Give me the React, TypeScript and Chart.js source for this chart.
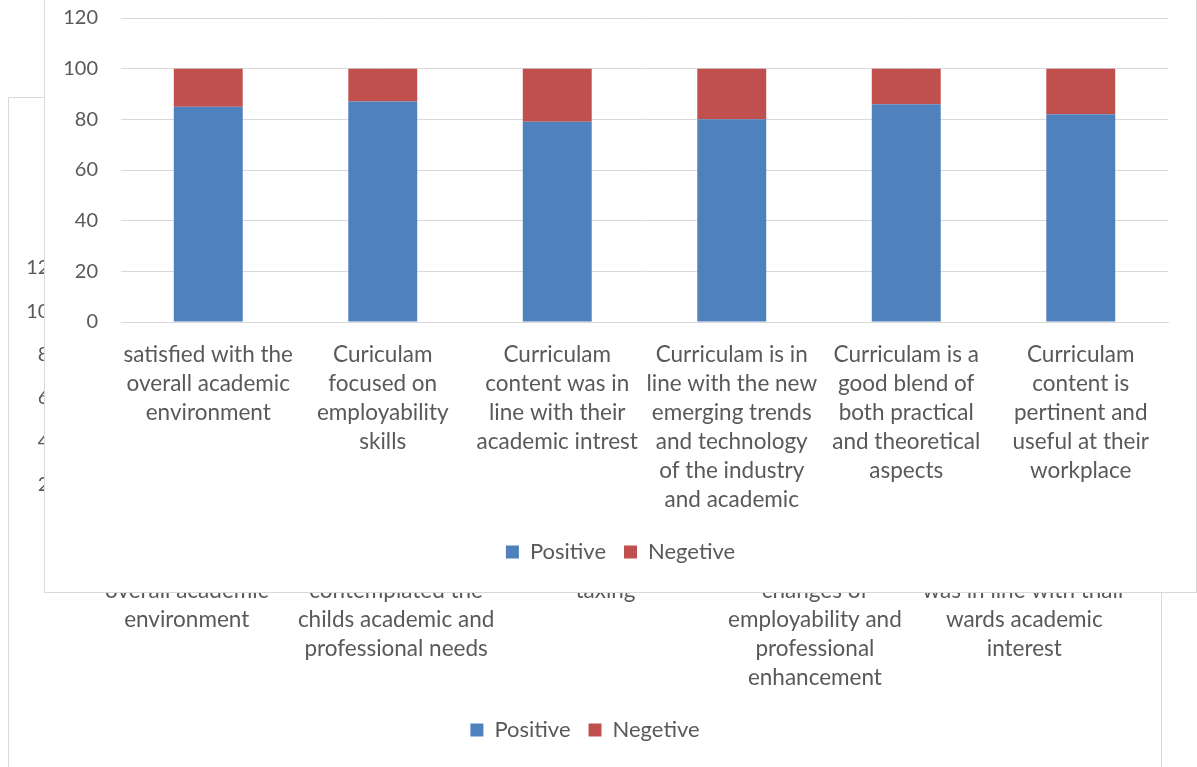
import React, { useEffect, useRef } from "react";
import { Chart, registerables } from "chart.js";

Chart.register(...registerables);

const seriesNames = ["Positive", "Negetive"];
const seriesColors = ["#4f81bd", "#c0504d"];
const yMin = 0;
const yMax = 120;
const yStep = 20;

const frontCategories = [
  ["satisfied with the", "overall academic", "environment"],
  ["Curiculam", "focused on", "employability", "skills"],
  ["Curriculam", "content was in", "line with their", "academic intrest"],
  ["Curriculam is in", "line with the new", "emerging trends", "and technology", "of the industry", "and academic"],
  ["Curriculam is a", "good blend of", "both practical", "and theoretical", "aspects"],
  ["Curriculam", "content is", "pertinent and", "useful at their", "workplace"],
];
const frontPositive = [85, 87, 79, 80, 86, 82];
const frontNegative = [15, 13, 21, 20, 14, 18];

const backCategories = [
  ["satisfied with the", "overall academic", "environment"],
  ["Curriculam", "contemplated the", "childs academic and", "professional needs"],
  ["Curriculam was not", "taxing"],
  ["Curriculam met the", "changes of", "employability and", "professional", "enhancement"],
  ["Curriculam content", "was in line with thair", "wards academic", "interest"],
];
const backPositive = [86, 83, 72, 81, 84];
const backNegative = [14, 17, 28, 19, 16];

const FONT = "Lato, 'Open Sans', sans-serif";
const TEXT = "#595959";
const GRID = "#d9d9d9";
const LABEL_SIZE = 22.5;
const LEGEND_SIZE = 22;
const TICK_SIZE = 20;

type Geo = {
  top: number;
  bottom: number;
  yAxisWidth: number;
  rightWidth: number;
  yTickPad: number;
  xAxisHeight: number;
  xTickPad: number;
  barPct: number;
};

function buildConfig(labels: string[][], pos: number[], neg: number[], g: Geo): any {
  return {
    type: "bar",
    data: {
      labels,
      datasets: [
        { label: seriesNames[0], data: pos, backgroundColor: seriesColors[0], borderWidth: 0, yAxisID: "y" },
        { label: seriesNames[1], data: neg, backgroundColor: seriesColors[1], borderWidth: 0, yAxisID: "y" },
      ],
    },
    options: {
      responsive: false,
      animation: false,
      devicePixelRatio: 1,
      events: [],
      layout: { padding: { left: 0, right: 0, top: g.top, bottom: g.bottom } },
      datasets: { bar: { categoryPercentage: 1, barPercentage: g.barPct } },
      plugins: {
        tooltip: { enabled: false },
        title: { display: false },
        legend: {
          display: true,
          position: "bottom",
          labels: {
            boxWidth: 13,
            boxHeight: 13,
            padding: 18,
            color: TEXT,
            font: { family: FONT, size: LEGEND_SIZE },
          },
        },
      },
      scales: {
        x: {
          stacked: true,
          grid: { display: false, drawTicks: false },
          border: { display: true, color: GRID, width: 1 },
          ticks: {
            color: TEXT,
            font: { family: FONT, size: LABEL_SIZE, lineHeight: 29 / LABEL_SIZE },
            padding: g.xTickPad,
            maxRotation: 0,
            minRotation: 0,
            autoSkip: false,
          },
          afterFit: (s: any) => {
            s.height = g.xAxisHeight;
          },
        },
        y: {
          stacked: true,
          position: "left",
          min: yMin,
          max: yMax,
          ticks: {
            stepSize: yStep,
            color: TEXT,
            font: { family: FONT, size: TICK_SIZE, lineHeight: 0.4 },
            padding: g.yTickPad,
          },
          grid: { color: GRID, lineWidth: 1, drawTicks: false },
          border: { display: false },
          afterFit: (s: any) => {
            s.width = g.yAxisWidth;
          },
        },
        spacer: {
          type: "linear",
          position: "right",
          display: true,
          ticks: { display: false },
          grid: { display: false, drawTicks: false },
          border: { display: false },
          afterFit: (s: any) => {
            s.width = g.rightWidth;
          },
        },
      },
    },
  };
}

function ChartBox(props: { config: any; boxStyle: React.CSSProperties; width: number; height: number }) {
  const ref = useRef<HTMLCanvasElement>(null);
  useEffect(() => {
    const chart = new Chart(ref.current as HTMLCanvasElement, props.config);
    return () => chart.destroy();
  }, []);
  return (
    <div style={props.boxStyle}>
      <canvas
        ref={ref}
        width={props.width}
        height={props.height}
        style={{ display: "block", width: props.width, height: props.height }}
      />
    </div>
  );
}

export default function App() {
  const backConfig = buildConfig(backCategories, backPositive, backNegative, {
    top: 170,
    bottom: 45,
    yAxisWidth: 73,
    rightWidth: 32,
    yTickPad: 21,
    xAxisHeight: 173,
    xTickPad: 19.5,
    barPct: 0.395,
  });
  const frontConfig = buildConfig(frontCategories, frontPositive, frontNegative, {
    top: 27,
    bottom: 19,
    yAxisWidth: 76,
    rightWidth: 28,
    yTickPad: 23,
    xAxisHeight: 201,
    xTickPad: 18.5,
    barPct: 0.395,
  });
  return (
    <div
      style={{
        position: "fixed",
        left: 0,
        top: 0,
        width: 1197,
        height: 767,
        overflow: "hidden",
        background: "#ffffff",
      }}
    >
      <ChartBox
        config={backConfig}
        width={1152}
        height={698}
        boxStyle={{
          position: "absolute",
          left: 8,
          top: 97,
          width: 1154,
          height: 700,
          boxSizing: "border-box",
          border: `1px solid ${GRID}`,
          background: "#ffffff",
        }}
      />
      <ChartBox
        config={frontConfig}
        width={1151}
        height={601}
        boxStyle={{
          position: "absolute",
          left: 44,
          top: -10,
          width: 1153,
          height: 603,
          boxSizing: "border-box",
          border: `1px solid ${GRID}`,
          background: "#ffffff",
        }}
      />
    </div>
  );
}
